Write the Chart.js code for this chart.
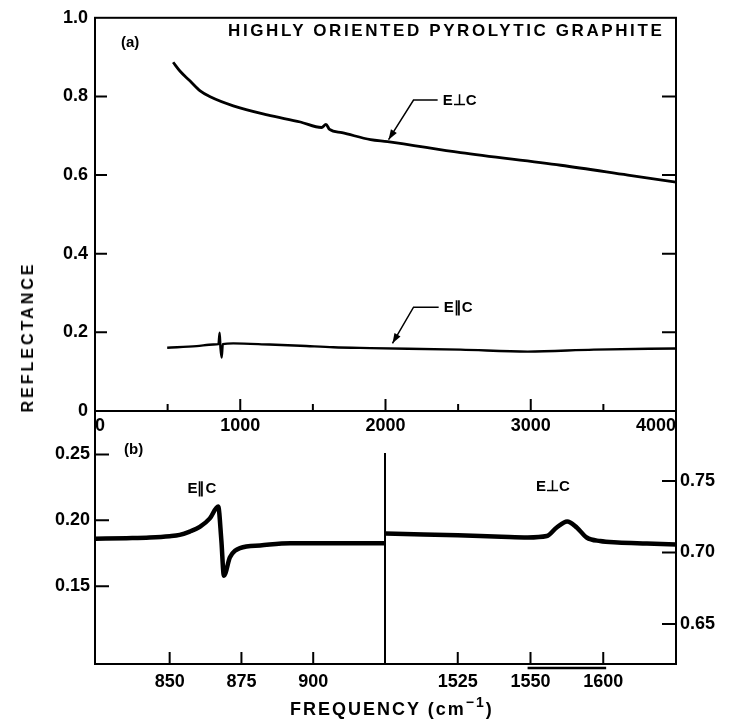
<!DOCTYPE html>
<html>
<head>
<meta charset="utf-8">
<script src="https://cdn.jsdelivr.net/npm/chart.js@4.4.0/dist/chart.umd.min.js"></script>
<style>
body { margin: 0; background: #fff; }
#wrap { position: relative; width: 738px; height: 723px; overflow: hidden; }
canvas { position: absolute; left: 0; top: 0; }
.txt { position: absolute; font-family: "Liberation Sans", Arial, sans-serif; font-weight: bold; color: #000; white-space: nowrap; line-height: 1; }
</style>
</head>
<body>
<div id="wrap">
  <canvas id="cBL" width="738" height="723"></canvas>
  <canvas id="cBR" width="738" height="723"></canvas>
  <canvas id="cTop" width="738" height="723"></canvas>
  <div class="txt" style="left:228px;top:22px;font-size:17px;letter-spacing:2.6px;">HIGHLY ORIENTED PYROLYTIC GRAPHITE</div>
  <div class="txt" style="left:121px;top:34px;font-size:15px;">(a)</div>
  <div class="txt" style="left:124px;top:441px;font-size:15px;">(b)</div>
  <div class="txt" style="left:28px;top:337px;font-size:16px;letter-spacing:3px;transform:translate(-50%,-50%) rotate(-90deg);">REFLECTANCE</div>
  <div class="txt" style="left:290px;top:700px;font-size:18px;letter-spacing:2px;">FREQUENCY (cm<span style="font-size:14px;position:relative;top:-8px;">&minus;1</span>)</div>
</div>
<script>
// panel (a): full range
const topXTicks = [0, 1000, 2000, 3000, 4000];
const topXMinor = [500, 1500, 2500, 3500];
const topYTicks = [0, 0.2, 0.4, 0.6, 0.8, 1.0];

const perpFreq = [538, 586, 655, 724, 793, 952, 1186, 1414, 1560, 1590, 1615, 1700, 1897, 2014, 2517, 3207, 3669, 4000];
const perpR = [0.887, 0.864, 0.839, 0.814, 0.799, 0.776, 0.753, 0.735, 0.721, 0.729, 0.716, 0.708, 0.690, 0.685, 0.657, 0.625, 0.600, 0.582];

const parFreq = [497, 700, 814, 850, 858, 864, 872, 880, 952, 1200, 1414, 1641, 1897, 2517, 2979, 3434, 4000];
const parR = [0.161, 0.165, 0.169, 0.170, 0.199, 0.160, 0.136, 0.170, 0.172, 0.169, 0.166, 0.162, 0.160, 0.156, 0.151, 0.156, 0.159];

// panel (b) left: E||C near 868
const blXTicks = [850, 875, 900];
const blYTicks = [0.15, 0.20, 0.25];
const blFreq = [824, 835, 843, 850, 853.5, 857, 860.5, 864, 866.9, 868, 868.9, 871, 874.5, 881.5, 892, 910, 925];
const blR = [0.186, 0.1865, 0.187, 0.188, 0.189, 0.1915, 0.195, 0.2015, 0.2106, 0.185, 0.158, 0.172, 0.179, 0.181, 0.1826, 0.1826, 0.1826];

// panel (b) right: E_|_C near 1587
const brXTicks = [1525, 1550, 1575];
const brXLabels = ['1525', '1550', '1600'];
const brYTicks = [0.65, 0.70, 0.75];
const brFreq = [1500, 1510, 1525, 1540, 1549, 1555.6, 1559, 1562.6, 1565.9, 1569.3, 1573.9, 1580, 1590, 1600];
const brR = [0.7133, 0.7128, 0.712, 0.711, 0.7105, 0.7115, 0.7175, 0.7217, 0.7175, 0.7105, 0.708, 0.707, 0.7063, 0.7056];

const FONT = { family: '"Liberation Sans", Arial, sans-serif', weight: 'bold', size: 18 };
const pts = (xs, ys) => xs.map((x, i) => ({ x: x, y: ys[i] }));
const setTicks = vals => s => { s.ticks = vals.map(v => ({ value: v })); };

function marks(ctx, scale, values, len) {
  ctx.beginPath();
  values.forEach(v => {
    const p = scale.getPixelForValue(v);
    if (scale.isHorizontal()) { ctx.moveTo(p, scale.top); ctx.lineTo(p, scale.top - len); }
    else if (scale.position === 'left') { ctx.moveTo(scale.right, p); ctx.lineTo(scale.right + len, p); }
    else { ctx.moveTo(scale.left, p); ctx.lineTo(scale.left - len, p); }
  });
  ctx.stroke();
}

function leader(ctx, xs, ys, path, label) {
  const p = path.map(q => [xs.getPixelForValue(q[0]), ys.getPixelForValue(q[1])]);
  ctx.lineWidth = 1.5;
  ctx.beginPath();
  ctx.moveTo(p[0][0], p[0][1]);
  for (let i = 1; i < p.length; i++) ctx.lineTo(p[i][0], p[i][1]);
  ctx.stroke();
  const a = p[p.length - 1], b = p[p.length - 2];
  const ang = Math.atan2(a[1] - b[1], a[0] - b[0]);
  ctx.beginPath();
  ctx.moveTo(a[0], a[1]);
  ctx.lineTo(a[0] - 10 * Math.cos(ang) + 3.5 * Math.sin(ang), a[1] - 10 * Math.sin(ang) - 3.5 * Math.cos(ang));
  ctx.lineTo(a[0] - 10 * Math.cos(ang) - 3.5 * Math.sin(ang), a[1] - 10 * Math.sin(ang) + 3.5 * Math.cos(ang));
  ctx.closePath();
  ctx.fill();
  ctx.font = 'bold 15px "Liberation Sans", Arial, sans-serif';
  ctx.textBaseline = 'middle';
  ctx.fillText(label, p[0][0] + 5, p[0][1] + 1);
}

function baseOptions(padding) {
  return {
    responsive: false,
    animation: false,
    layout: { padding: padding },
    plugins: { legend: { display: false }, tooltip: { enabled: false } },
    elements: { point: { radius: 0 }, line: { borderColor: '#000', cubicInterpolationMode: 'monotone' } }
  };
}
const noGrid = { display: false, drawTicks: false };

// top panel (a)
const topOpts = baseOptions({ top: 12, left: 0, right: 0, bottom: 0 });
topOpts.scales = {
  x: {
    type: 'linear', min: 0, max: 4000, afterBuildTicks: setTicks(topXTicks), afterFit: s => { s.height = 312; },
    grid: noGrid, border: { display: false },
    ticks: { align: 'inner', padding: 4, maxRotation: 0, color: '#000', font: FONT, callback: v => String(v) }
  },
  y: {
    min: 0, max: 1.0, position: 'left', afterBuildTicks: setTicks(topYTicks), afterFit: s => { s.width = 95; },
    grid: noGrid, border: { display: false },
    ticks: { padding: 7, color: '#000', font: FONT, callback: v => v === 0 ? '0' : v.toFixed(1) }
  },
  y1: {
    min: 0, max: 1.0, position: 'right', afterBuildTicks: setTicks(topYTicks), afterFit: s => { s.width = 62; },
    grid: noGrid, border: { display: false }, ticks: { display: false }
  }
};
new Chart(document.getElementById('cTop'), {
  type: 'line',
  data: { datasets: [
    { data: pts(perpFreq, perpR), borderWidth: 2.8 },
    { data: pts(parFreq, parR), borderWidth: 2.4 }
  ] },
  options: topOpts,
  plugins: [{
    id: 'frameA',
    afterDraw(chart) {
      const { ctx, chartArea: a, scales } = chart;
      ctx.save();
      ctx.strokeStyle = '#000'; ctx.fillStyle = '#000'; ctx.lineWidth = 2;
      ctx.strokeRect(a.left, a.top, a.right - a.left, a.bottom - a.top);
      marks(ctx, scales.x, topXTicks, 12);
      marks(ctx, scales.x, topXMinor, 7);
      marks(ctx, scales.y, topYTicks.slice(1, 5), 12);
      marks(ctx, scales.y1, topYTicks.slice(1, 5), 14);
      leader(ctx, scales.x, scales.y, [[2359, 0.791], [2193, 0.791], [2021, 0.690]], 'E\u22A5C');
      leader(ctx, scales.x, scales.y, [[2366, 0.264], [2193, 0.264], [2048, 0.172]], 'E\u2225C');
      ctx.restore();
    }
  }]
});

// bottom left panel (b)
const blOpts = baseOptions({ top: 411, left: 0, right: 353, bottom: 0 });
blOpts.scales = {
  x: {
    type: 'linear', min: 824, max: 925, afterBuildTicks: setTicks(blXTicks), afterFit: s => { s.height = 59; },
    grid: noGrid, border: { display: false },
    ticks: { padding: 7, maxRotation: 0, color: '#000', font: FONT, callback: v => String(v) }
  },
  y: {
    min: 0.091, max: 0.283, position: 'left', afterBuildTicks: setTicks(blYTicks), afterFit: s => { s.width = 95; },
    grid: noGrid, border: { display: false },
    ticks: { padding: 5, color: '#000', font: FONT, callback: v => v.toFixed(2) }
  }
};
new Chart(document.getElementById('cBL'), {
  type: 'line',
  data: { datasets: [{ data: pts(blFreq, blR), borderWidth: 4.5 }] },
  options: blOpts,
  plugins: [{
    id: 'frameBL',
    afterDraw(chart) {
      const { ctx, chartArea: a, scales } = chart;
      ctx.save();
      ctx.strokeStyle = '#000'; ctx.fillStyle = '#000'; ctx.lineWidth = 2;
      ctx.beginPath();
      ctx.moveTo(a.left, a.top); ctx.lineTo(a.left, a.bottom); ctx.lineTo(a.right, a.bottom);
      ctx.stroke();
      marks(ctx, scales.x, blXTicks, 12);
      marks(ctx, scales.y, blYTicks, 14);
      ctx.font = 'bold 15px "Liberation Sans", Arial, sans-serif';
      ctx.textAlign = 'center'; ctx.textBaseline = 'middle';
      ctx.fillText('E\u2225C', scales.x.getPixelForValue(861.2), scales.y.getPixelForValue(0.2242));
      ctx.restore();
    }
  }]
});

// bottom right panel (b)
const brOpts = baseOptions({ top: 411, left: 385, right: 0, bottom: 0 });
brOpts.scales = {
  x: {
    type: 'linear', min: 1500, max: 1600, afterBuildTicks: setTicks(brXTicks), afterFit: s => { s.height = 59; },
    grid: noGrid, border: { display: false },
    ticks: { padding: 7, maxRotation: 0, color: '#000', font: FONT, callback: v => brXLabels[brXTicks.indexOf(v)] }
  },
  y: {
    min: 0.622, max: 0.799, position: 'right', afterBuildTicks: setTicks(brYTicks), afterFit: s => { s.width = 62; },
    grid: noGrid, border: { display: false },
    ticks: { padding: 4, color: '#000', font: FONT, callback: v => v.toFixed(2) }
  }
};
new Chart(document.getElementById('cBR'), {
  type: 'line',
  data: { datasets: [{ data: pts(brFreq, brR), borderWidth: 4.5 }] },
  options: brOpts,
  plugins: [{
    id: 'frameBR',
    afterDraw(chart) {
      const { ctx, chartArea: a, scales } = chart;
      ctx.save();
      ctx.strokeStyle = '#000'; ctx.fillStyle = '#000'; ctx.lineWidth = 2;
      ctx.beginPath();
      ctx.moveTo(a.left, a.top + 42); ctx.lineTo(a.left, a.bottom); ctx.lineTo(a.right, a.bottom); ctx.lineTo(a.right, a.top);
      ctx.stroke();
      marks(ctx, scales.x, brXTicks, 12);
      marks(ctx, scales.y, brYTicks, 14);
      // stray bar printed over the tick labels in the original
      ctx.lineWidth = 2.5;
      ctx.beginPath();
      ctx.moveTo(scales.x.getPixelForValue(1549), a.bottom + 4);
      ctx.lineTo(scales.x.getPixelForValue(1576), a.bottom + 4);
      ctx.stroke();
      ctx.font = 'bold 15px "Liberation Sans", Arial, sans-serif';
      ctx.textAlign = 'center'; ctx.textBaseline = 'middle';
      ctx.fillText('E\u22A5C', scales.x.getPixelForValue(1557.7), scales.y.getPixelForValue(0.7458));
      ctx.restore();
    }
  }]
});
</script>
</body>
</html>
